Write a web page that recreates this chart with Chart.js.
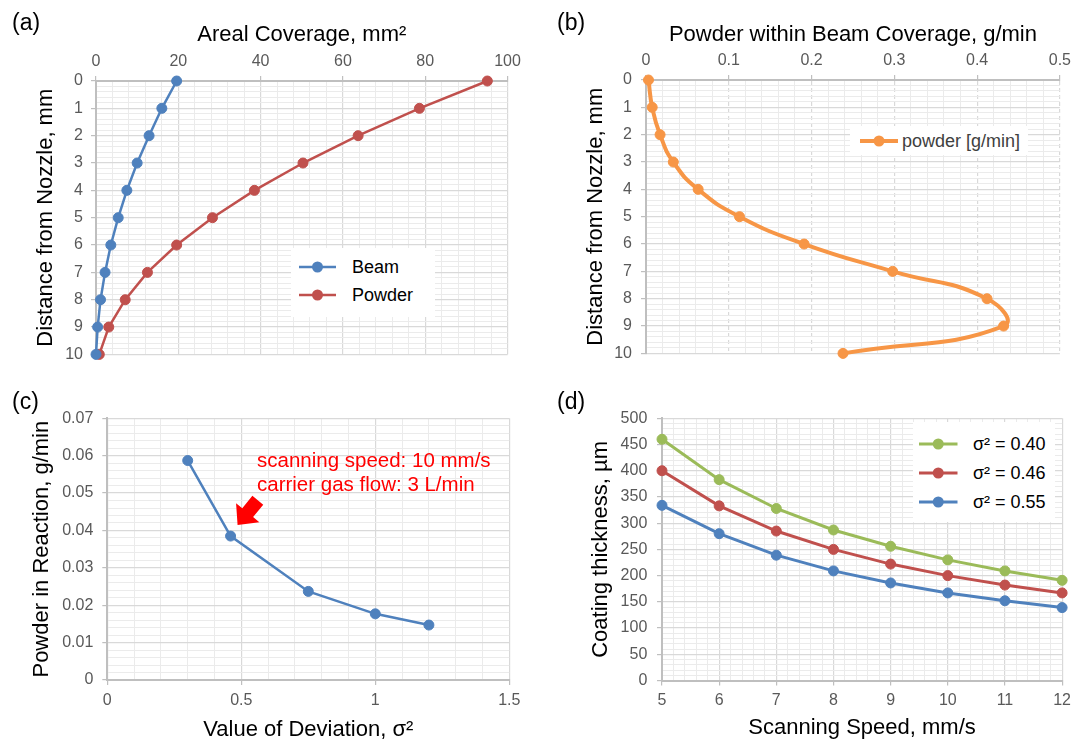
<!DOCTYPE html>
<html>
<head>
<meta charset="utf-8">
<script src="https://cdn.jsdelivr.net/npm/chart.js@4.4.1/dist/chart.umd.min.js"></script>
<style>
  html, body { margin: 0; padding: 0; background: #fff; }
  body { width: 1076px; height: 744px; position: relative; overflow: hidden;
         font-family: 'Liberation Sans', Arial, sans-serif; }
  canvas { position: absolute; }
  .tag { position: absolute; font-size: 23px; line-height: 23px; color: #000; }
  .legend { position: absolute; background: #fff; }
  .legend span { position: absolute; font-size: 18px; line-height: 18px; white-space: nowrap; }
  .legend svg { position: absolute; }
  .note { position: absolute; color: #ff0000; font-size: 20.5px; line-height: 20.5px; white-space: nowrap; }
</style>
</head>
<body>
<canvas id="chartA" width="538" height="372" style="left:0;top:0"></canvas>
<canvas id="chartB" width="538" height="372" style="left:538px;top:0"></canvas>
<canvas id="chartC" width="538" height="372" style="left:0;top:372px"></canvas>
<canvas id="chartD" width="538" height="372" style="left:538px;top:372px"></canvas>

<div class="tag" style="left:12px;top:10.5px">(a)</div>
<div class="tag" style="left:557px;top:10.5px">(b)</div>
<div class="tag" style="left:12px;top:390px">(c)</div>
<div class="tag" style="left:557px;top:390px">(d)</div>

<div class="note" style="left:257px;top:450px">scanning speed: 10 mm/s</div>
<div class="note" style="left:257px;top:474px">carrier gas flow: 3 L/min</div>

<script>
// (a) areal coverage against distance from the nozzle
const distance = [0, 1, 2, 3, 4, 5, 6, 7, 8, 9, 10];
const beamArea = [19.6, 16.0, 12.9, 10.0, 7.5, 5.4, 3.6, 2.2, 1.1, 0.4, 0];
const powderArea = [95.1, 78.6, 63.7, 50.3, 38.5, 28.3, 19.6, 12.5, 7.1, 3.1, 0.8];

// (b) powder inside the beam, g/min
const powderInBeam = [0.003, 0.0075, 0.017, 0.033, 0.063, 0.113, 0.191, 0.298, 0.412, 0.432, 0.238];

// (c) powder in reaction against deviation
const deviation = [0.30, 0.46, 0.75, 1.00, 1.20];
const reactionPowder = [0.0587, 0.0385, 0.0237, 0.0177, 0.0147];

// (d) coating thickness against scanning speed
const speed = [5, 6, 7, 8, 9, 10, 11, 12];
const thick040 = [460, 383, 328, 287, 256, 230, 209, 191];
const thick046 = [400, 333, 285, 250, 222, 200, 182, 167];
const thick055 = [334, 280, 239, 209, 186, 167, 152, 139];

Chart.defaults.font.family = "'Liberation Sans', Arial, sans-serif";

const BLUE = '#4f81bd', RED = '#c0504d', GREEN = '#9bbb59', ORANGE = '#f79646';

function pts(xs, ys) {
  return xs.map((x, i) => ({ x: x, y: ys[i] }));
}

function series(label, data, color, width, radius, tension) {
  return {
    label: label, data: data, showLine: true,
    borderColor: color, backgroundColor: color, borderWidth: width,
    pointRadius: radius, pointBackgroundColor: color, pointBorderColor: color,
    pointBorderWidth: 1, tension: tension || 0, clip: false
  };
}

// linear axis with light minor grid, labels only on the major steps
function axis(o) {
  const isMajor = v => Math.abs(v / o.major - Math.round(v / o.major)) < 1e-6;
  return {
    type: 'linear', position: o.position, reverse: !!o.reverse,
    min: o.min, max: o.max,
    ticks: {
      stepSize: o.step, autoSkip: false, maxRotation: 0, padding: o.tickPad,
      color: '#595959', font: { size: 16 },
      callback: v => isMajor(v) ? String(Number(v.toFixed(4))) : ''
    },
    grid: {
      color: c => c.tick && isMajor(c.tick.value) ? '#d9d9d9' : '#ebebeb',
      lineWidth: c => c.tick && isMajor(c.tick.value) ? 1.2 : 1,
      tickLength: 5,
      tickColor: c => c.tick && isMajor(c.tick.value) ? '#bfbfbf' : 'rgba(0,0,0,0)'
    },
    border: {
      color: '#bfbfbf', width: 2,
      dash: c => (o.dashMajor && c.tick && isMajor(c.tick.value) && c.tick.value !== o.min) ? [4, 3] : []
    },
    title: { display: true, text: o.title, color: '#000', font: { size: 22 }, padding: o.titlePad },
    afterFit: s => { if (s.isHorizontal()) s.height = o.size; else s.width = o.size; }
  };
}

function makeChart(id, datasets, scales, padding, plugins) {
  return new Chart(document.getElementById(id), {
    type: 'scatter',
    data: { datasets: datasets },
    options: {
      responsive: false, animation: false, devicePixelRatio: 1,
      layout: { padding: padding },
      plugins: { legend: { display: false }, tooltip: { enabled: false } },
      scales: scales
    },
    plugins: plugins || []
  });
}

// html legend drawn from the chart's own datasets
function addLegend(chart, left, top, box, rows) {
  const div = document.createElement('div');
  div.className = 'legend';
  Object.assign(div.style, {
    left: (left + box.x) + 'px', top: (top + box.y) + 'px',
    width: box.w + 'px', height: box.h + 'px'
  });
  chart.data.datasets.forEach((ds, i) => {
    const cy = rows[i] - box.y;
    const w = box.x2 - box.x1;
    div.insertAdjacentHTML('beforeend',
      '<svg width="' + w + '" height="16" style="left:' + (box.x1 - box.x) + 'px;top:' + (cy - 8) + 'px">' +
      '<line x1="0" y1="8" x2="' + w + '" y2="8" stroke="' + ds.borderColor + '" stroke-width="' + ds.borderWidth + '"/>' +
      '<circle cx="' + (w / 2) + '" cy="8" r="' + (ds.pointRadius + 0.5) + '" fill="' + ds.pointBackgroundColor + '"/></svg>' +
      '<span style="left:' + (box.tx - box.x) + 'px;top:' + (cy - 8.8) + 'px;color:' + box.color + '">' + ds.label + '</span>');
  });
  document.body.appendChild(div);
}

// (a)
const chartA = makeChart('chartA', [
  series('Beam', pts(beamArea, distance), BLUE, 2.5, 5),
  series('Powder', pts(powderArea, distance), RED, 2.5, 5)
], {
  x: axis({ position: 'top', min: 0, max: 100, step: 4, major: 20, tickPad: 5, size: 81,
            title: 'Areal Coverage, mm\u00b2', titlePad: { top: 22, bottom: 0 } }),
  y: axis({ position: 'left', reverse: true, min: 0, max: 10, step: 0.2, major: 1, tickPad: 8, size: 96,
            title: 'Distance from Nozzle, mm', titlePad: { top: 33, bottom: 0 } })
}, { left: 0, top: 0, right: 30.5, bottom: 12 });
addLegend(chartA, 0, 0, { x: 291, y: 248, w: 144, h: 69, x1: 299, x2: 336, tx: 352, color: '#000' }, [266.7, 295]);

// (b)
const chartB = makeChart('chartB', [
  series('powder [g/min]', pts(powderInBeam, distance), ORANGE, 4, 5, 0.5)
], {
  x: axis({ position: 'top', min: 0, max: 0.5, step: 0.02, major: 0.1, tickPad: 5, size: 80, dashMajor: true,
            title: 'Powder within Beam Coverage, g/min', titlePad: { top: 22, bottom: 0 } }),
  y: axis({ position: 'left', reverse: true, min: 0, max: 10, step: 0.2, major: 1, tickPad: 9, size: 108,
            title: 'Distance from Nozzle, mm', titlePad: { top: 44.5, bottom: 0 } })
}, { left: 0, top: 0, right: 16, bottom: 12 });
addLegend(chartB, 538, 0, { x: 312, y: 126, w: 178, h: 29, x1: 322, x2: 360, tx: 364, color: '#404040' }, [140.7]);

// (c)
const arrowPlugin = {
  id: 'arrow',
  afterDatasetsDraw(chart) {
    const { ctx, scales } = chart;
    const px = scales.x.getPixelForValue(deviation[1]) + 7;
    const py = scales.y.getPixelForValue(reactionPowder[1]) - 11;
    ctx.save();
    ctx.translate(px, py);
    ctx.rotate(Math.atan2(-25, 20.4));
    ctx.beginPath();
    ctx.moveTo(0, 0);
    ctx.lineTo(16, -15);
    ctx.lineTo(16, -7);
    ctx.lineTo(32, -7);
    ctx.lineTo(32, 7);
    ctx.lineTo(16, 7);
    ctx.lineTo(16, 15);
    ctx.closePath();
    ctx.fillStyle = '#ff0000';
    ctx.fill();
    ctx.restore();
  }
};
makeChart('chartC', [
  series('Powder in Reaction', pts(deviation, reactionPowder), BLUE, 2.5, 5)
], {
  x: axis({ position: 'bottom', min: 0, max: 1.5, step: 0.1, major: 0.5, tickPad: 6, size: 64,
            title: 'Value of Deviation, \u03c3\u00b2', titlePad: { top: 0, bottom: 0.5 } }),
  y: axis({ position: 'left', min: 0, max: 0.07, step: 0.002, major: 0.01, tickPad: 9, size: 107.3,
            title: 'Powder in Reaction, g/min', titlePad: { top: 29, bottom: 0 } })
}, { left: 0, top: 46.3, right: 28.7, bottom: 0 }, [arrowPlugin]);

// (d)
const chartD = makeChart('chartD', [
  series('\u03c3\u00b2 = 0.40', pts(speed, thick040), GREEN, 3, 5),
  series('\u03c3\u00b2 = 0.46', pts(speed, thick046), RED, 3, 5),
  series('\u03c3\u00b2 = 0.55', pts(speed, thick055), BLUE, 3, 5)
], {
  x: axis({ position: 'bottom', min: 5, max: 12, step: 0.2, major: 1, tickPad: 5, size: 63.5,
            title: 'Scanning Speed, mm/s', titlePad: { top: 0, bottom: 2.8 } }),
  y: axis({ position: 'left', min: 0, max: 500, step: 10, major: 50, tickPad: 9.7, size: 124,
            title: 'Coating thickness, \u00b5m', titlePad: { top: 49.6, bottom: 0 } })
}, { left: 0, top: 46.3, right: 13.5, bottom: 0 });
addLegend(chartD, 538, 372, { x: 374.6, y: 50, w: 142, h: 100, x1: 381.5, x2: 420, tx: 435, color: '#000' }, [71.5, 100.5, 130]);
</script>
</body>
</html>
